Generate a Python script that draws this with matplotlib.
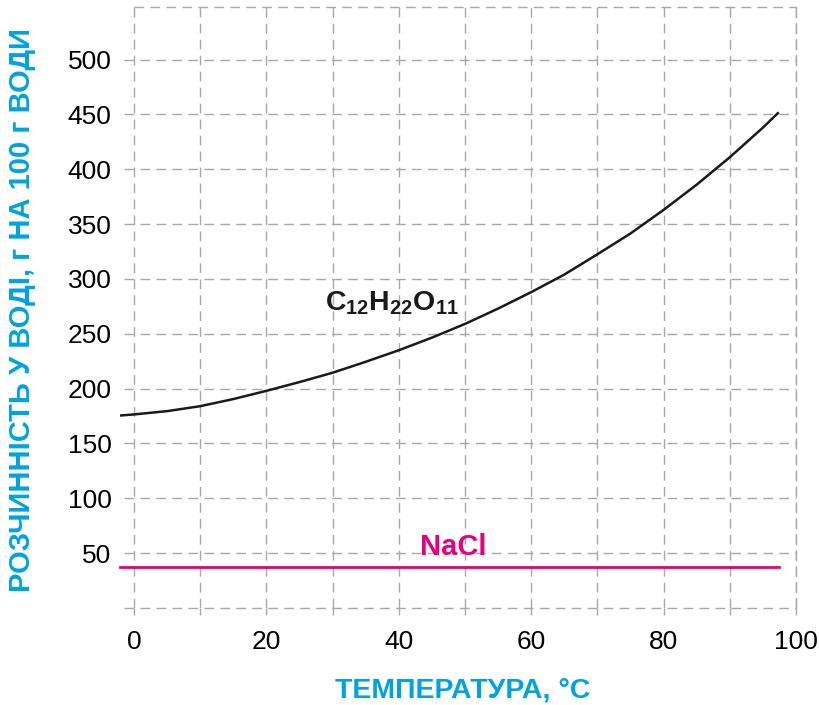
import matplotlib
matplotlib.use("Agg")
import matplotlib.pyplot as plt

plt.rcParams['font.family'] = ['Liberation Sans', 'DejaVu Sans']
plt.rcParams['mathtext.fontset'] = 'custom'
plt.rcParams['mathtext.rm'] = 'Liberation Sans'
plt.rcParams['mathtext.bf'] = 'Liberation Sans:bold'

# solubility, g per 100 g of water
temp_sugar = [-2.1, 0, 5, 10, 15, 20, 25, 30, 35, 40, 45, 50, 55, 60,
              65, 70, 75, 80, 85, 90, 95, 97.4]
sol_sugar = [175.5, 176.5, 179.5, 184, 190.5, 198, 206, 214.5, 224.5, 235,
             246.5, 259, 273, 288, 304, 322.5, 341.5, 363, 386, 411,
             438, 452]
temp_salt = [-2.1, 97.4]
sol_salt = [37, 37]

xticks = [0, 20, 40, 60, 80, 100]
yticks = [50, 100, 150, 200, 250, 300, 350, 400, 450, 500]

cyan = '#00A3E0'
magenta = '#E5007E'
grid_gray = '#A8A8A8'
dash = (0, (7, 4.5))

fig = plt.figure(figsize=(8.2, 7.05), dpi=100)
ax = fig.add_axes([124 / 820, 97 / 705, 672 / 820, 601 / 705])
ax.set_xlim(-1.5, 100)
ax.set_ylim(0, 548)

# dashed grid every 10 degrees / 50 g
for x in range(0, 101, 10):
    ax.axvline(x, color=grid_gray, lw=1.0, linestyle=dash, zorder=1)
for y in range(0, 501, 50):
    ax.axhline(y, color=grid_gray, lw=1.0, linestyle=dash, zorder=1,
               clip_on=False)
# top border starts at 0 degrees
ax.plot([0, 100], [548, 548], color=grid_gray, lw=1.0, linestyle=dash,
        clip_on=False, zorder=1)

ax.plot(temp_sugar, sol_sugar, color='#1a1a1a', lw=1.8, zorder=3,
        clip_on=False, solid_capstyle='butt', solid_joinstyle='round')
ax.plot(temp_salt, sol_salt, color=magenta, lw=2.0, zorder=3, clip_on=False)

ax.text(28.8, 278, r'$\mathbf{C_{12}H_{22}O_{11}}$', fontsize=20.5,
        color='#1a1a1a', va='center', ha='left')
ax.text(48.3, 55.5, 'NaCl', fontsize=21, fontweight='bold', color=magenta,
        ha='center', va='center')

ax.set_xticks(xticks)
ax.set_xticks(range(0, 101, 10), minor=True)
ax.set_yticks(yticks)
ax.tick_params(axis='x', which='both', direction='out', length=5,
               color=grid_gray, width=1.0, pad=11, labelsize=19)
ax.tick_params(axis='y', length=0, pad=9, labelsize=19)

for side in ['left', 'bottom', 'top']:
    ax.spines[side].set_visible(False)
ax.spines['right'].set_color(grid_gray)
ax.spines['right'].set_linestyle(dash)
ax.spines['right'].set_linewidth(1.0)

fig.text(22 / 820, 1 - 310 / 705, 'РОЗЧИННІСТЬ У ВОДІ, г НА 100 г ВОДИ',
         rotation=90, color=cyan, fontsize=21, fontweight='bold',
         ha='center', va='center')
fig.text(463 / 820, 1 - 690 / 705, 'ТЕМПЕРАТУРА, °C', color=cyan,
         fontsize=20.5, fontweight='bold', ha='center', va='center')

fig.savefig('out.png', dpi=100)
